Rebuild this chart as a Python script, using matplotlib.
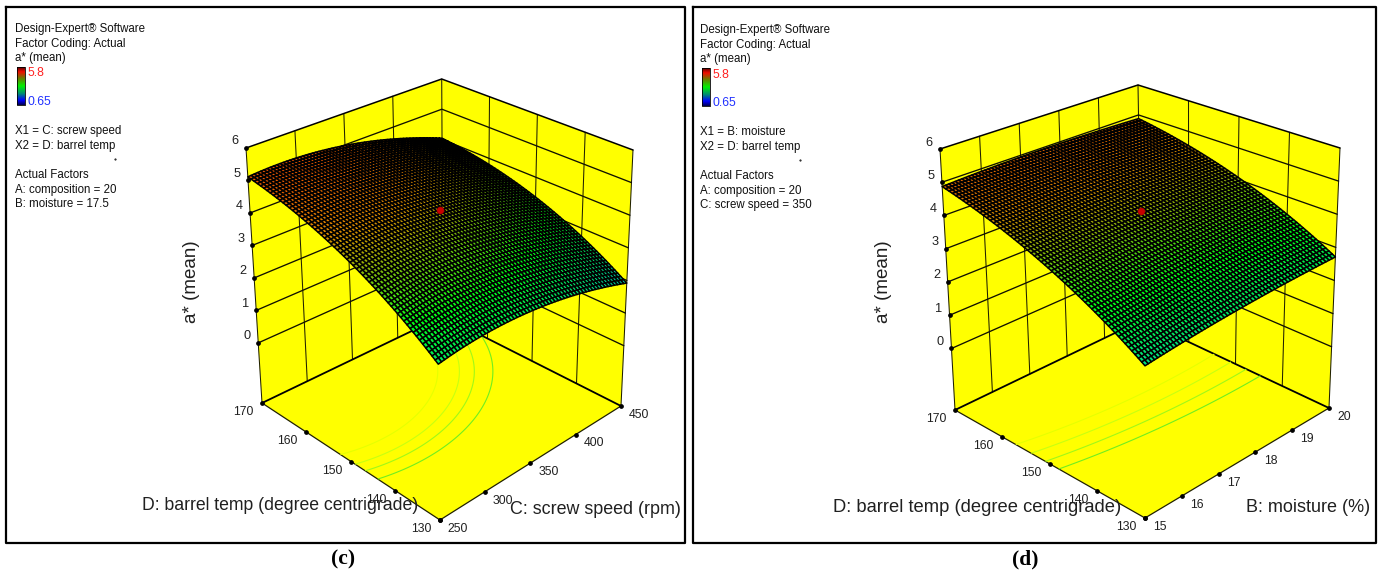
import numpy as np
import matplotlib
matplotlib.use("Agg")
import matplotlib.pyplot as plt
from matplotlib.collections import PolyCollection
from matplotlib.colors import LinearSegmentedColormap, Normalize

plt.rcParams['font.family'] = ['Liberation Sans', 'DejaVu Sans']

# ---------- values ----------
z_ticks = [0, 1, 2, 3, 4, 5, 6]
d_temp_ticks = [130, 140, 150, 160, 170]
c_speed_ticks = [250, 300, 350, 400, 450]
b_moist_ticks = [15, 16, 17, 18, 19, 20]

# a*(mean) read at the axis levels: rows = barrel temp, columns = X1 factor
c_x_levels = [250, 300, 350, 400, 450]
c_y_levels = [130, 140, 150, 160, 170]
c_values = [[2.63, 2.76, 2.68, 2.40, 1.92],
            [3.54, 3.65, 3.55, 3.25, 2.74],
            [4.26, 4.34, 4.22, 3.90, 3.37],
            [4.78, 4.84, 4.70, 4.35, 3.80],
            [5.11, 5.15, 4.98, 4.61, 4.04]]
c_center = 4.34
c_contours = [3.85, 4.05, 4.2, 4.4]

d_x_levels = [15.0, 16.25, 17.5, 18.75, 20.0]
d_y_levels = [130, 140, 150, 160, 170]
d_values = [[2.34, 2.49, 2.60, 2.67, 2.71],
            [3.18, 3.31, 3.39, 3.45, 3.46],
            [3.88, 3.98, 4.05, 4.08, 4.07],
            [4.44, 4.53, 4.57, 4.57, 4.54],
            [4.87, 4.93, 4.95, 4.93, 4.88]]
d_center = 4.28
d_contours = [3.76, 3.94, 4.12, 4.3]

contour_colors = ['#70ee20', '#a0f818', '#c8ff10', '#e6ff00']
legend_common = ["Design-Expert\u00ae Software", "Factor Coding: Actual", "a* (mean)"]
# --------------------------------------------------

FLOOR_Z = -1.85
MESH = 60

W, H = 1381, 573
fig = plt.figure(figsize=(W / 100, H / 100), dpi=100, facecolor='white')
ax = fig.add_axes([0, 0, 1, 1])
ax.set_xlim(0, W)
ax.set_ylim(H, 0)
ax.axis('off')

surf_cmap = LinearSegmentedColormap.from_list('rsm', [
    (0.0, (0, 0, 1)), (0.25, (0, 0.80, 0.70)), (0.5, (0, 1, 0.1)),
    (0.75, (0.85, 0.55, 0)), (1.0, (1, 0.1, 0))])
bar_cmap = LinearSegmentedColormap.from_list('bar', [
    (0.0, (0, 0, 0.35)), (0.12, (0, 0, 1)), (0.3, (0, 0.55, 0.45)), (0.5, (0, 0.95, 0)),
    (0.7, (0.4, 0.5, 0)), (0.88, (0.95, 0.05, 0)), (1.0, (0.35, 0, 0))])
norm = Normalize(0.65, 5.8)


def panel(x_ticks, y_ticks, x_levels, y_levels, values, center, contours, corners,
          xt_off, yt_off, zt_off):
    x0, x1 = x_ticks[0], x_ticks[-1]
    y0, y1 = y_ticks[0], y_ticks[-1]
    C = np.array(corners, float)   # box corners in pixels, index [x side, y side, z side]

    def project(x, y, z):
        x, y, z = np.asarray(x, float), np.asarray(y, float), np.asarray(z, float)
        u = (x - x0) / (x1 - x0)
        v = (y - y0) / (y1 - y0)
        w = (z - FLOOR_Z) / (6 - FLOOR_Z)
        out = 0
        for i, a in enumerate((1 - u, u)):
            for j, b in enumerate((1 - v, v)):
                for k, c in enumerate((1 - w, w)):
                    out = out + (a * b * c)[..., None] * C[i, j, k]
        return out[..., 0], out[..., 1]

    def line(x, y, z, **kw):
        a, b = project(x, y, z)
        ax.plot(a, b, solid_capstyle='round', **kw)

    # walls and floor
    for pts in ([(x0, y1, FLOOR_Z), (x1, y1, FLOOR_Z), (x1, y1, 6), (x0, y1, 6)],
                [(x1, y0, FLOOR_Z), (x1, y1, FLOOR_Z), (x1, y1, 6), (x1, y0, 6)],
                [(x0, y0, FLOOR_Z), (x1, y0, FLOOR_Z), (x1, y1, FLOOR_Z), (x0, y1, FLOOR_Z)]):
        a, b = project(*zip(*pts))
        ax.fill(a, b, color='#ffff00', lw=0, zorder=1)

    # wall grid
    grid = dict(color='#202000', lw=0.75, zorder=2)
    for xt in x_ticks[1:-1]:
        line([xt, xt], [y1, y1], [FLOOR_Z, 6], **grid)
    for yt in y_ticks[1:-1]:
        line([x1, x1], [yt, yt], [FLOOR_Z, 6], **grid)
    for edge in ([x0, x0], [y1, y1]), ([x1, x1], [y0, y0]), ([x1, x1], [y1, y1]):
        line(edge[0], edge[1], [FLOOR_Z, 6], **grid)
    for zt in z_ticks[:-1]:
        line([x0, x1, x1], [y1, y1, y0], [zt, zt, zt], color='#101000', lw=0.95, zorder=2)
    line([x0, x1, x1], [y1, y1, y0], [6, 6, 6], color='black', lw=1.1, zorder=2)
    line([x0, x1, x1], [y1, y1, y0], [FLOOR_Z] * 3, color='black', lw=1.3, zorder=2)
    line([x1, x0, x0], [y0, y0, y1], [FLOOR_Z] * 3, color='#202000', lw=0.9, zorder=2)

    # surface: the read grid carried onto the fine drawing mesh (a quadratic through
    # each row and column, the form of the response model) so the mesh texture can be drawn
    zv = np.array(values, float)
    fx = np.linspace(x0, x1, MESH + 1)
    fy = np.linspace(y0, y1, MESH + 1)
    by_row = np.array([np.polyval(np.polyfit(x_levels, r, 2), fx) for r in zv])
    Z = np.array([np.polyval(np.polyfit(y_levels, c, 2), fy) for c in by_row.T]).T
    XX, YY = np.meshgrid(fx, fy)

    # contours on the floor
    Fx, Fy = project(XX, YY, np.full_like(Z, FLOOR_Z))
    ax.contour(Fx, Fy, Z, levels=contours, colors=contour_colors, linewidths=0.8, zorder=3)

    Sx, Sy = project(XX, YY, Z)
    verts, cols = [], []
    for j in range(MESH, 0, -1):
        for i in range(MESH, 0, -1):
            verts.append([(Sx[j, i], Sy[j, i]), (Sx[j, i - 1], Sy[j, i - 1]),
                          (Sx[j - 1, i - 1], Sy[j - 1, i - 1]), (Sx[j - 1, i], Sy[j - 1, i])])
            cols.append(surf_cmap(norm(Z[j - 1:j + 1, i - 1:i + 1].mean())))
    ax.add_collection(PolyCollection(verts, facecolors=cols, edgecolors='black',
                                     linewidths=1.12, zorder=4))

    # design point
    a, b = project((x0 + x1) / 2, (y0 + y1) / 2, center)
    ax.plot(a, b, 'o', ms=5.2, color='#c80000', mec='#800000', mew=0.3, zorder=5)

    # ticks and labels
    tick = dict(marker='o', ms=2.4, color='black', ls='none', zorder=6)
    for zt in z_ticks:
        a, b = project(x0, y1, zt)
        ax.plot(a, b, **tick)
        ax.text(a + zt_off[0], b + zt_off[1], str(zt), fontsize=9.2, color='#202020',
                ha='center', va='center', zorder=7)
    for xt in x_ticks:
        a, b = project(xt, y0, FLOOR_Z)
        ax.plot(a, b, **tick)
        ax.text(a + xt_off[0], b + xt_off[1], str(xt), fontsize=8.8, color='#202020',
                ha='center', va='center', zorder=7)
    for yt in y_ticks:
        a, b = project(x0, yt, FLOOR_Z)
        ax.plot(a, b, **tick)
        ax.text(a + yt_off[0], b + yt_off[1], str(yt), fontsize=8.8, color='#202020',
                ha='center', va='center', zorder=7)


def legend(x, y_top, lines_mid, lines_low):
    for k, s in enumerate(legend_common):
        ax.text(x, y_top + k * 14.6, s, fontsize=8.3, color='#101010', va='center', ha='left')
    bx = x + 2
    grad = np.linspace(1, 0, 64).reshape(-1, 1)
    ax.imshow(grad, cmap=bar_cmap, extent=(bx, bx + 8, y_top + 76, y_top + 38),
              aspect='auto', zorder=3, vmin=0, vmax=1)
    ax.plot([bx, bx + 8, bx + 8, bx, bx], [y_top + 38, y_top + 38, y_top + 76, y_top + 76, y_top + 38],
            color='black', lw=0.6, zorder=4)
    ax.text(x + 13, y_top + 44.5, "5.8", color='#ff2020', fontsize=8.7, va='center')
    ax.text(x + 13, y_top + 73, "0.65", color='#2030ff', fontsize=8.7, va='center')
    for k, s in enumerate(lines_mid):
        ax.text(x, y_top + 102 + k * 15, s, fontsize=8.3, color='#101010', va='center')
    ax.plot(x + 100, y_top + 130, '.', ms=1, color='black')
    for k, s in enumerate(lines_low):
        ax.text(x, y_top + 146 + k * 14.6, s, fontsize=8.3, color='#101010', va='center')


# frames
for l, r in ((6, 685), (693, 1376)):
    ax.plot([l, r, r, l, l], [7, 7, 543, 543, 7], color='black', lw=1.6, zorder=0)

# box corners in pixels: [x low / x high][y low / y high][floor / top]
c_corners = [[[(440, 520), (437, 247)], [(262, 403), (246, 148)]],
             [[(621, 406), (633, 150)], [(443, 316), (441.7, 79)]]]
d_corners = [[[(1145, 518), (1145, 233)], [(955, 410), (940, 149)]],
             [[(1329, 408), (1340, 148)], [(1142, 320), (1138, 85)]]]

panel(c_speed_ticks, d_temp_ticks, c_x_levels, c_y_levels, c_values, c_center, c_contours,
      c_corners, (18, 9), (-19, 9), (-11, -6.5))
panel(b_moist_ticks, d_temp_ticks, d_x_levels, d_y_levels, d_values, d_center, d_contours,
      d_corners, (15, 9), (-19, 9), (-11, -6.5))

legend(15, 29, ["X1 = C: screw speed", "X2 = D: barrel temp"],
       ["Actual Factors", "A: composition = 20", "B: moisture = 17.5"])
legend(700, 30, ["X1 = B: moisture", "X2 = D: barrel temp"],
       ["Actual Factors", "A: composition = 20", "C: screw speed = 350"])

title = dict(color='#202020', va='center', zorder=8)
ax.text(142, 505, "D: barrel temp (degree centrigrade)", ha='left', fontsize=12.7, **title)
ax.text(510, 509, "C: screw speed (rpm)", ha='left', fontsize=12.9, **title)
ax.text(833, 507, "D: barrel temp (degree centrigrade)", ha='left', fontsize=13.2, **title)
ax.text(1246, 507, "B: moisture (%)", ha='left', fontsize=13.0, **title)
ax.text(192, 282, "a* (mean)", rotation=90, ha='center', fontsize=13.5, **title)
ax.text(884, 282, "a* (mean)", rotation=90, ha='center', fontsize=13.5, **title)

for x, s in ((343, "(c)"), (1025, "(d)")):
    ax.text(x, 559, s, family='Liberation Serif', fontweight='bold', fontsize=15.5,
            ha='center', va='center', color='black')

ax.set_xlim(0, W)
ax.set_ylim(H, 0)
fig.savefig('out.png', dpi=100)
